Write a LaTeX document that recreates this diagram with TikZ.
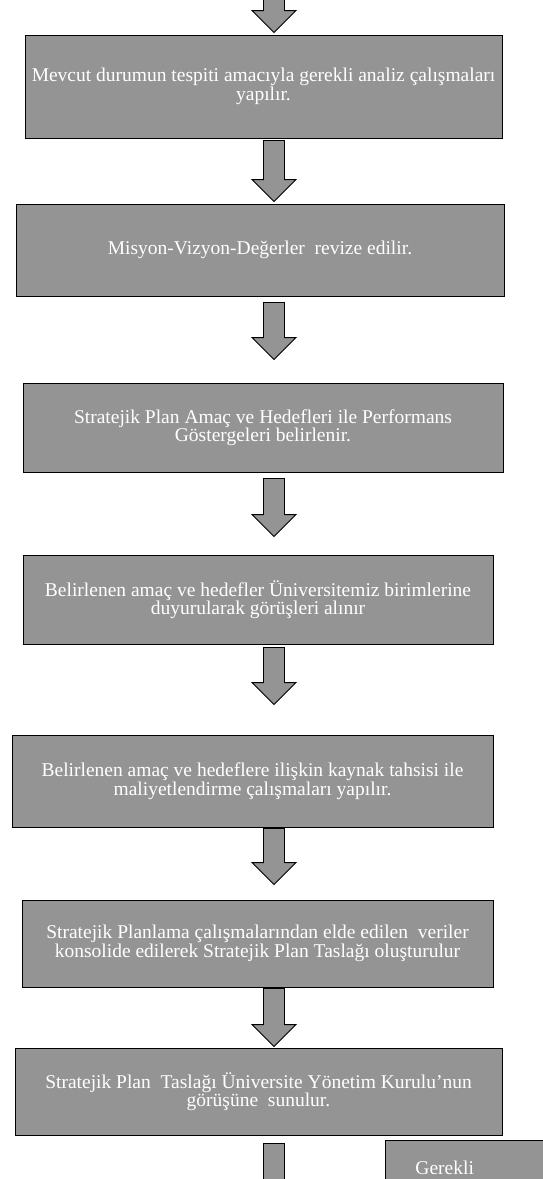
\documentclass[tikz,border=0pt]{standalone}
\usepackage{fontspec}
\setmainfont{Liberation Serif}
\usetikzlibrary{calc}

% x position of the block arrows
\newcommand{\arrowx}{274pt}
% block arrow from the height of #1 down to the tip at #2
\newcommand{\blkarrow}[2]{%
  \draw[blkarrow] let \p1=(#1), \p2=(#2) in
    (\arrowx-10.5pt,\y1) -- (\arrowx-10.5pt,\y2+22pt) -- (\arrowx-22pt,\y2+22pt)
    -- (\arrowx,\y2) -- (\arrowx+22pt,\y2+22pt) -- (\arrowx+10.5pt,\y2+22pt)
    -- (\arrowx+10.5pt,\y1) -- cycle;}

\begin{document}
\begin{tikzpicture}[x=1pt,y=1pt,
    stepbox/.style={draw=black, line width=0.9pt, fill=black!42, text=white,
      align=center, inner sep=0pt,
      font=\fontsize{19.5}{18.5}\selectfont},
    blkarrow/.style={draw=black, line width=0.9pt, fill=black!42, line join=miter}]
            \useasboundingbox (0,0) rectangle (543,-1179);
            \clip (0,0) rectangle (543,-1179);

            % Entry arrow
            \coordinate (entry) at (274,5);

            % First stage box
            \node[stepbox, minimum width=477pt, minimum height=103pt] (b1) at (263.5,-86.5)
              {Mevcut durumun tespiti amacıyla gerekli analiz çalışmaları\\ yapılır.};
            \blkarrow{entry}{[yshift=2pt]b1.north}

            % Second stage box
            \node[stepbox, minimum width=488pt, minimum height=92pt] (b2) at (260,-250)
              {Misyon-Vizyon-Değerler\ \ revize edilir.};
            \blkarrow{[yshift=-2pt]b1.south}{[yshift=2pt]b2.north}

            % Third stage box
            \node[stepbox, minimum width=480pt, minimum height=89pt] (b3) at (263,-427.5)
              {Stratejik Plan Amaç ve Hedefleri ile Performans\\ Göstergeleri belirlenir.};
            \blkarrow{[yshift=-6pt]b2.south}{[yshift=23pt]b3.north}

            % Fourth stage box
            \node[stepbox, minimum width=470pt, minimum height=89pt] (b4) at (258,-599.5)
              {Belirlenen amaç ve hedefler Üniversitemiz birimlerine\\ duyurularak görüşleri alınır};
            \blkarrow{[yshift=-6pt]b3.south}{[yshift=18pt]b4.north}

            % Fifth stage box
            \node[stepbox, minimum width=481pt, minimum height=92pt] (b5) at (252.5,-781)
              {Belirlenen amaç ve hedeflere ilişkin kaynak tahsisi ile\\ maliyetlendirme çalışmaları yapılır.};
            \blkarrow{[yshift=-3pt]b4.south}{[yshift=30pt]b5.north}

            % Sixth stage box
            \node[stepbox, minimum width=471pt, minimum height=87pt] (b6) at (257.5,-943.5)
              {Stratejik Planlama çalışmalarından elde edilen\ \ veriler\\ konsolide edilerek Stratejik Plan Taslağı oluşturulur};
            \blkarrow{[yshift=-1pt]b5.south}{[yshift=15pt]b6.north}

            % Seventh stage box
            \node[stepbox, minimum width=487pt, minimum height=87pt] (b7) at (258.5,-1091.5)
              {Stratejik Plan\ \ Taslağı Üniversite Yönetim Kurulu'nun\\ görüşüne\ \ sunulur.};
            \blkarrow{[yshift=-1pt]b6.south}{[yshift=1pt]b7.north}

            % Exit arrow and side box
            \coordinate (exit) at (274,-1215);
            \blkarrow{[yshift=-8pt]b7.south}{exit}
            \node[stepbox, anchor=north west, minimum height=55pt, text width=130pt,
              inner xsep=30pt, align=left] (b8) at (385,-1140) {Gerekli};
        \end{tikzpicture}
\end{document}
